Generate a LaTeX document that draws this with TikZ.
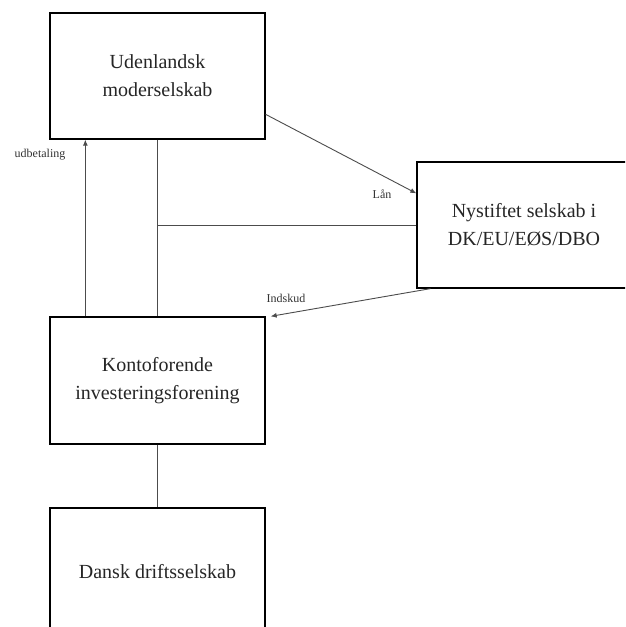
\documentclass[tikz,border=0pt]{standalone}
\usepackage{fontspec}
\setmainfont{Liberation Serif}
\usetikzlibrary{calc,arrows.meta}
\begin{document}
\begin{tikzpicture}[x=1pt,y=-1pt,
  box/.style={draw=black,line width=1.3pt,minimum width=215pt,minimum height=126pt,align=center,inner sep=0pt,font=\fontsize{20}{28}\selectfont,text=black!85},
  conn/.style={draw=black!70,line width=0.9pt},
  arr/.style={conn,-{Latex[length=6pt,width=5pt]}},
  lbl/.style={font=\fontsize{12}{14}\selectfont,inner sep=0pt,text=black!80}]
\useasboundingbox (0,0) rectangle (625,627);
\clip (0,0) rectangle (625,627);
\fill[white] (0,0) rectangle (625,627);
\node[box] (A) at (157.5,76) {Udenlandsk\\moderselskab};
\node[box,minimum width=214pt] (B) at (524,225) {Nystiftet selskab i\\DK/EU/EØS/DBO};
\node[box,minimum height=127pt] (C) at (157.5,380.5) {Kontoforende\\investeringsforening};
\node[box,minimum height=127pt] (D) at (157.5,571.5) {Dansk driftsselskab};
\draw[arr] ($(C.north west)+(36,0)$) -- ($(A.south west)+(36,0)$);
\node[lbl] (ludb) at (40,155) {udbetaling};
\draw[conn] (A.south) -- (C.north);
\draw[conn] (A.south |- B.west) -- (B.west);
\draw[arr] ($(A.north east)+(0,102)$) -- ($(B.north west)+(0,32)$);
\node[lbl] (llan) at (382,194) {Lån};
\draw[arr] ($(B.south west)+(14,0)$) -- ($(C.north east)+(5,0)$);
\node[lbl] (lind) at (286,298) {Indskud};
\draw[conn] (C.south) -- (D.north);
\end{tikzpicture}
\end{document}
